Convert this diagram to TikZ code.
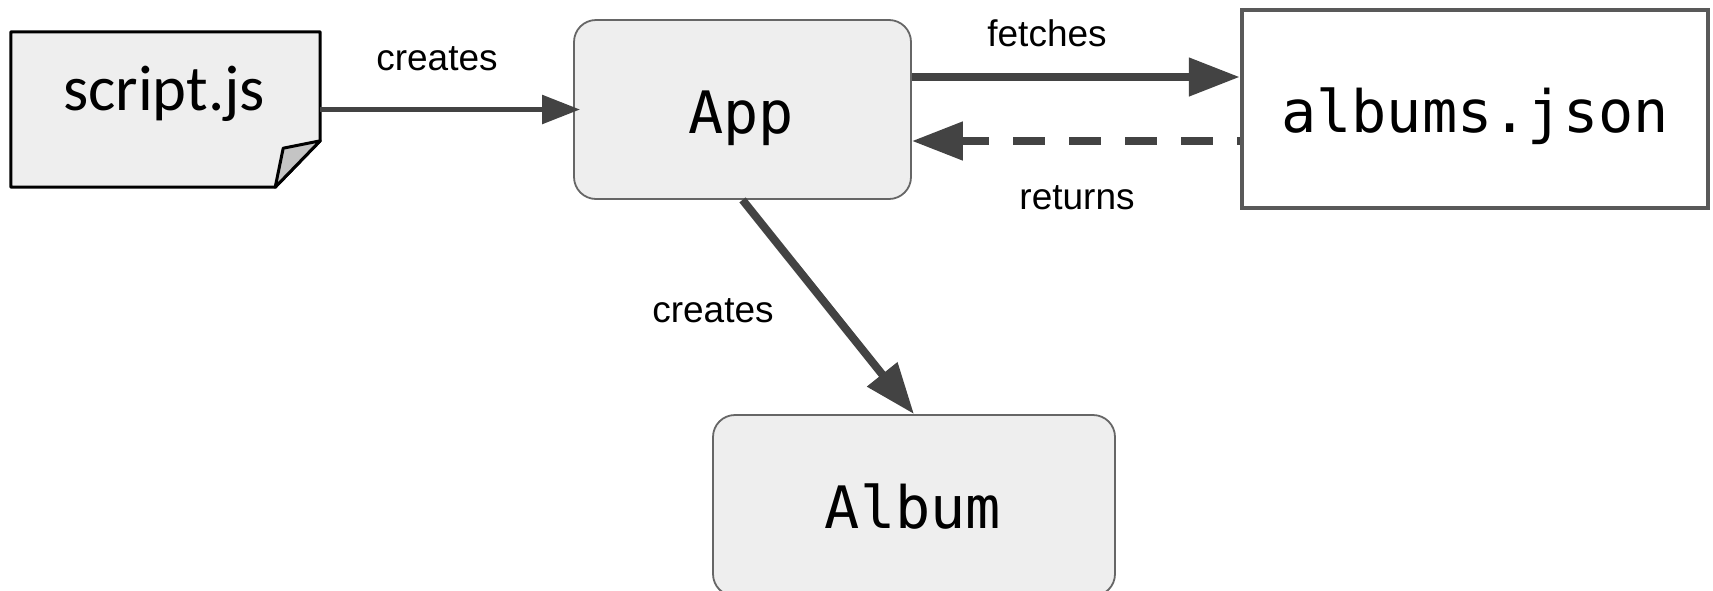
\documentclass[tikz,border=0pt]{standalone}
\usepackage{fontspec}
\setmainfont{Liberation Sans}
\newfontfamily\codefont{DejaVu Sans Mono}
\newfontfamily\notefont{Carlito}
\usetikzlibrary{arrows.meta,calc}

\definecolor{boxfill}{HTML}{EEEEEE}
\definecolor{boxline}{HTML}{666666}
\definecolor{arrowgray}{HTML}{434343}
\definecolor{foldgray}{HTML}{C4C4C4}
\definecolor{fileline}{HTML}{595959}

\tikzset{
  classbox/.style={draw=boxline, fill=boxfill, line width=1.8pt, rounded corners=22pt, inner sep=0pt},
  filebox/.style={draw=fileline, fill=white, line width=4.5pt, inner sep=0pt},
  shapebox/.style={inner sep=0pt},
  codetext/.style={anchor=base, inner sep=0pt, font=\codefont\fontsize{58.5}{62}\selectfont},
  scripttext/.style={anchor=base, inner sep=0pt, font=\notefont\fontsize{64.5}{68}\selectfont},
  edgelabel/.style={anchor=base, inner sep=0pt, font=\fontsize{37}{40}\selectfont},
  flow/.style={draw=arrowgray, line width=8pt, -{Triangle[length=51pt,width=37pt]}},
  thinflow/.style={draw=arrowgray, line width=5.5pt, -{Triangle[length=38pt,width=28pt]}},
}

\begin{document}
\begin{tikzpicture}[x=1pt, y=-1pt]
  \useasboundingbox (0,0) rectangle (1713,590);

  % script.js: page with a folded corner
  \node[shapebox, minimum width=309pt, minimum height=155pt] (script) at (165.5,109.5) {};
  \draw[fill=boxfill, line width=3pt, line join=round]
    (script.north west) -- (script.north east)
    -- ($(script.north east)+(0,109)$) -- ($(script.south east)+(-45,0)$)
    -- (script.south west) -- cycle;
  \draw[fill=foldgray, line width=3pt, line join=round]
    ($(script.north east)+(0,109)$) -- ($(script.south east)+(-37,-39)$)
    -- ($(script.south east)+(-45,0)$) -- cycle;
  \node[scripttext] (scriptlabel) at (164,110) {script.js};

  % App
  \node[classbox, minimum width=337pt, minimum height=179pt] (App) at (742.5,109.5) {};
  \node[codetext] (applabel) at (741,133) {App};

  % albums.json
  \node[filebox, minimum width=466pt, minimum height=198pt] (albums) at (1475,109) {};
  \node[codetext] (albumslabel) at (1475,132) {albums.json};

  % Album (its lower edge runs past the bottom of the page)
  \node[classbox, minimum width=402pt, minimum height=181pt] (Album) at (914,505.5) {};
  \node[codetext] (albumlabel) at (913,528) {Album};

  % heights of the two horizontal connectors
  \coordinate (fetchy) at (0,77);
  \coordinate (returny) at (0,141);

  % connectors
  \draw[thinflow, shorten >=-7pt] (script.east) -- (App.west);
  \draw[flow] (App.east |- fetchy) -- (albums.west |- fetchy);
  \draw[flow, dash pattern=on 32pt off 24pt, dash phase=29pt]
    (albums.west |- returny) -- (App.east |- returny);
  \draw[flow] (App.south) -- (Album.north);

  % connector labels
  \node[edgelabel] (createslabel) at (437,70) {creates};
  \node[edgelabel] (fetcheslabel) at (1047,46) {fetches};
  \node[edgelabel] (returnslabel) at (1077,209) {returns};
  \node[edgelabel] (createslabel2) at (713,322) {creates};
\end{tikzpicture}
\end{document}
